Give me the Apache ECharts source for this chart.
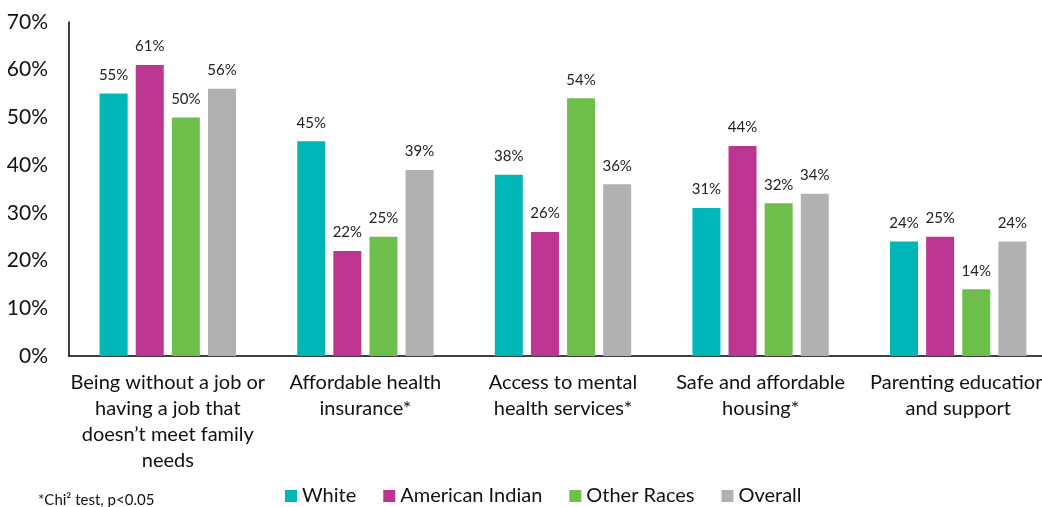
<!DOCTYPE html>
<html>
<head>
<meta charset="utf-8">
<script src="https://cdn.jsdelivr.net/npm/echarts@6/dist/echarts.min.js"></script>
<style>
  html, body { margin: 0; padding: 0; background: #fff; overflow: hidden; }
  #main { width: 1060px; height: 507px; }
</style>
</head>
<body>
<div id="main"></div>
<script>
const categories = [
  'Being without a job or\nhaving a job that\ndoesn\u2019t meet family\nneeds',
  'Affordable health\ninsurance*',
  'Access to mental\nhealth services*',
  'Safe and affordable\nhousing*',
  'Parenting education\nand support'
];
const white = [55, 45, 38, 31, 24];
const americanIndian = [61, 22, 26, 44, 25];
const otherRaces = [50, 25, 54, 32, 14];
const overall = [56, 39, 36, 34, 24];

const font = 'Lato, "Open Sans", sans-serif';
const chart = echarts.init(document.getElementById('main'));

function bar(name, data) {
  return {
    name: name,
    type: 'bar',
    data: data,
    barWidth: 28,
    barGap: '29%',
    label: {
      show: true,
      position: 'top',
      distance: 11,
      formatter: '{c}%',
      color: '#222',
      fontSize: 15,
      fontFamily: font
    }
  };
}

chart.setOption({
  animation: false,
  color: ['#00B5B5', '#BC3590', '#6DBE4B', '#B1B1B2'],
  grid: { left: 69, width: 988, top: 22, bottom: 151 },
  legend: {
    bottom: -4,
    left: 280,
    itemWidth: 12,
    itemHeight: 12,
    itemGap: 27,
    icon: 'rect',
    textStyle: { fontSize: 20, color: '#111', fontFamily: font },
    data: ['White', 'American Indian', 'Other Races', 'Overall']
  },
  xAxis: {
    type: 'category',
    data: categories,
    axisLine: { lineStyle: { color: '#000', width: 1.5 } },
    axisTick: { show: false },
    axisLabel: {
      interval: 0,
      margin: 14,
      fontSize: 20,
      lineHeight: 26,
      color: '#111',
      fontFamily: font
    }
  },
  yAxis: {
    type: 'value',
    min: 0,
    max: 70,
    interval: 10,
    axisLine: { show: true, lineStyle: { color: '#000', width: 1.5 } },
    axisTick: { show: false },
    splitLine: { show: false },
    axisLabel: {
      formatter: '{value}%',
      margin: 21,
      fontSize: 21,
      color: '#111',
      fontFamily: font
    }
  },
  graphic: [{
    type: 'text',
    left: 38,
    top: 493,
    style: {
      text: '*Chi\u00b2 test, p<0.05',
      fontSize: 15,
      fill: '#111',
      fontFamily: font
    }
  }],
  series: [
    bar('White', white),
    bar('American Indian', americanIndian),
    bar('Other Races', otherRaces),
    bar('Overall', overall)
  ]
});
</script>
</body>
</html>
